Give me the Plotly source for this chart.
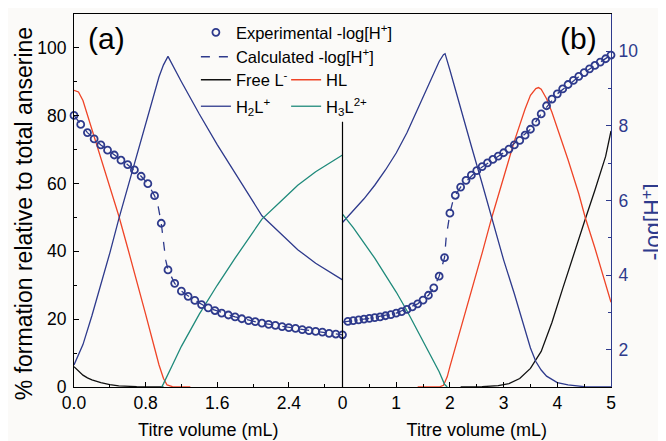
import plotly.graph_objects as go

NAVY = "#2e3a8c"
RED = "#ef4427"
GREEN = "#1f8a7b"
BLACK = "#111111"
BG = "#fbfaf8"
FONT = "Liberation Sans, Arial, sans-serif"

# ---------------- Panel (a) ----------------
a_exp_x = [0, 0.075, 0.15, 0.225, 0.3, 0.375, 0.45, 0.525, 0.6, 0.675, 0.75, 0.825,
           0.9, 0.975, 1.05, 1.125, 1.2, 1.275, 1.35, 1.425, 1.5, 1.575, 1.65, 1.725,
           1.8, 1.875, 1.95, 2.025, 2.1, 2.175, 2.25, 2.325, 2.4, 2.475, 2.55, 2.625,
           2.7, 2.775, 2.85, 2.925, 3.0]
a_exp_ph = [8.28, 8.04, 7.82, 7.65, 7.49, 7.35, 7.22, 7.08, 6.96, 6.82, 6.65, 6.45,
            6.13, 5.39, 4.14, 3.78, 3.57, 3.43, 3.32, 3.21, 3.12, 3.05, 2.98, 2.93,
            2.88, 2.83, 2.78, 2.75, 2.71, 2.68, 2.65, 2.62, 2.59, 2.57, 2.54, 2.51,
            2.49, 2.47, 2.44, 2.42, 2.40]
a_calc_x = [0, 0.15, 0.3, 0.45, 0.6, 0.75, 0.825, 0.9, 0.94, 0.975, 1.0, 1.025, 1.05,
            1.125, 1.2, 1.35, 1.5, 1.8, 2.1, 2.4, 2.7, 3.0]
a_calc_ph = [8.28, 7.82, 7.49, 7.22, 6.96, 6.65, 6.45, 6.13, 5.85, 5.39, 4.85, 4.40, 4.14,
             3.78, 3.57, 3.32, 3.12, 2.88, 2.71, 2.59, 2.49, 2.40]

a_L_x = [0, 0.05, 0.1, 0.15, 0.2, 0.3, 0.4, 0.5, 0.7, 1.0]
a_L = [6.0, 4.6, 3.5, 2.7, 2.1, 1.3, 0.7, 0.35, 0.1, 0.0]

a_HL_x = [0, 0.05, 0.1, 0.2, 0.3, 0.4, 0.5, 0.6, 0.7, 0.8, 0.9, 0.95, 1.0, 1.04, 1.1, 1.3]
a_HL = [87.5, 87.0, 84.5, 76.0, 67.5, 59.0, 50.5, 41.0, 31.5, 21.5, 11.5, 6.5, 2.5, 0.6, 0.1, 0.0]

a_H2L_x = [0, 0.05, 0.1, 0.2, 0.3, 0.4, 0.5, 0.6, 0.7, 0.8, 0.9, 0.95, 1.0, 1.05,
           1.2, 1.4, 1.6, 1.8, 2.0, 2.1, 2.3, 2.5, 2.7, 2.85, 3.0]
a_H2L = [6.5, 9.5, 12.5, 21.0, 30.0, 39.5, 49.5, 59.0, 68.5, 78.0, 87.5, 91.5, 95.0, 97.5,
         90.0, 80.5, 71.5, 63.0, 54.5, 50.5, 45.5, 40.5, 36.5, 34.0, 31.6]

a_H3L_x = [0.98, 1.0, 1.1, 1.2, 1.4, 1.6, 1.8, 2.0, 2.1, 2.3, 2.5, 2.7, 2.85, 3.0]
a_H3L = [0.0, 1.0, 6.5, 12.0, 21.5, 30.0, 38.0, 45.5, 49.5, 54.5, 59.5, 63.5, 66.0, 68.4]

# ---------------- Panel (b) ----------------
b_exp_x = [0.1, 0.2, 0.3, 0.4, 0.5, 0.6, 0.7, 0.8, 0.9, 1.0, 1.1, 1.2, 1.3, 1.4, 1.5,
           1.6, 1.7, 1.8, 1.9, 2.0, 2.1, 2.2, 2.3, 2.4, 2.5, 2.6, 2.7, 2.8, 2.9, 3.0,
           3.1, 3.2, 3.3, 3.4, 3.5, 3.6, 3.7, 3.8, 3.9, 4.0, 4.1, 4.2, 4.3, 4.4, 4.5,
           4.6, 4.7, 4.8, 4.9, 5.0]
b_exp_ph = [2.76, 2.78, 2.80, 2.82, 2.84, 2.86, 2.88, 2.91, 2.94, 2.98, 3.02, 3.08, 3.15,
            3.23, 3.33, 3.46, 3.66, 3.97, 4.47, 5.66, 6.14, 6.36, 6.54, 6.68, 6.80, 6.91,
            7.01, 7.10, 7.19, 7.28, 7.38, 7.49, 7.61, 7.75, 7.91, 8.10, 8.32, 8.54, 8.72,
            8.86, 8.99, 9.11, 9.22, 9.33, 9.43, 9.53, 9.62, 9.71, 9.80, 9.90]
b_calc_x = [0.0, 0.5, 1.0, 1.4, 1.6, 1.7, 1.8, 1.9, 1.93, 1.97, 2.0, 2.05, 2.1, 2.2,
            2.5, 3.0, 3.5, 3.7, 4.0, 4.5, 5.0]
b_calc_ph = [2.74, 2.84, 2.98, 3.23, 3.46, 3.66, 3.97, 4.47, 5.0, 5.4, 5.66, 5.95, 6.14,
             6.36, 6.80, 7.28, 7.91, 8.32, 8.86, 9.43, 9.90]

b_L_x = [2.2, 2.6, 2.9, 3.1, 3.3, 3.5, 3.7, 3.9, 4.1, 4.3, 4.5, 4.7, 4.9, 5.0]
b_L = [0.0, 0.1, 0.4, 1.0, 2.5, 5.5, 10.5, 19.0, 29.0, 39.0, 48.5, 58.0, 68.0, 75.5]

b_HL_x = [1.4, 1.8, 1.88, 1.95, 2.0, 2.2, 2.4, 2.6, 2.78, 3.0, 3.2, 3.4, 3.5, 3.6, 3.65,
          3.7, 3.8, 3.9, 4.0, 4.2, 4.4, 4.52, 4.7, 4.85, 5.0]
b_HL = [0.0, 0.0, 0.5, 3.0, 6.0, 17.0, 28.0, 39.5, 50.0, 62.0, 72.5, 82.0, 86.0, 88.0, 88.3,
        87.8, 85.0, 81.0, 76.5, 67.0, 57.0, 50.0, 41.0, 33.0, 25.0]

b_H2L_x = [0, 0.2, 0.4, 0.6, 0.8, 1.0, 1.2, 1.4, 1.6, 1.8, 1.88, 1.91, 2.0, 2.2, 2.4,
           2.6, 2.8, 3.0, 3.2, 3.4, 3.5, 3.6, 3.7, 3.8, 4.0, 4.2, 4.5, 5.0]
b_H2L = [48.5, 52.0, 55.5, 59.5, 64.0, 69.0, 75.0, 82.0, 89.0, 96.0, 98.0, 98.3, 93.5,
         82.0, 71.0, 60.0, 48.5, 37.5, 27.5, 16.5, 11.5, 7.5, 5.0, 3.2, 1.3, 0.6, 0.1, 0.0]

b_H3L_x = [0, 0.2, 0.4, 0.6, 0.8, 1.0, 1.2, 1.4, 1.6, 1.8, 1.9, 1.95]
b_H3L = [51.0, 47.0, 42.5, 38.0, 33.0, 28.0, 22.5, 16.5, 10.5, 4.5, 0.8, 0.0]

fig = go.Figure()

LW = 1.3


def species(x, y, xa, name, color, legend, show):
    fig.add_trace(go.Scatter(x=x, y=y, xaxis=xa, yaxis="y", mode="lines",
                             line=dict(color=color, width=LW), name=name,
                             legend=legend, showlegend=show))


species(a_L_x, a_L, "x", "Free L<sup>-</sup>", BLACK, "legend2", True)
species(a_HL_x, a_HL, "x", "HL", RED, "legend3", True)
species(a_H2L_x, a_H2L, "x", "H<sub>2</sub>L<sup>+</sup>", NAVY, "legend4", True)
species(a_H3L_x, a_H3L, "x", "H<sub>3</sub>L<sup>2+</sup>", GREEN, "legend5", True)
species(b_L_x, b_L, "x2", "Free L<sup>-</sup>", BLACK, "legend2", False)
species(b_HL_x, b_HL, "x2", "HL", RED, "legend3", False)
species(b_H2L_x, b_H2L, "x2", "H<sub>2</sub>L<sup>+</sup>", NAVY, "legend4", False)
species(b_H3L_x, b_H3L, "x2", "H<sub>3</sub>L<sup>2+</sup>", GREEN, "legend5", False)

# -log[H+] traces
fig.add_trace(go.Scatter(x=a_calc_x, y=a_calc_ph, xaxis="x", yaxis="y3", mode="lines",
                         line=dict(color=NAVY, width=1.3, dash="dash"),
                         name="Calculated -log[H<sup>+</sup>]", legend="legend",
                         showlegend=False))
fig.add_trace(go.Scatter(x=b_calc_x, y=b_calc_ph, xaxis="x2", yaxis="y2", mode="lines",
                         line=dict(color=NAVY, width=1.3, dash="dash"),
                         name="Calculated -log[H<sup>+</sup>]", legend="legend",
                         showlegend=False))
fig.add_trace(go.Scatter(x=a_exp_x, y=a_exp_ph, xaxis="x", yaxis="y3", mode="markers",
                         marker=dict(symbol="circle-open", size=7, color=NAVY,
                                     line=dict(width=1.8, color=NAVY)),
                         name="Experimental -log[H<sup>+</sup>]", legend="legend",
                         showlegend=True, cliponaxis=False))
fig.add_trace(go.Scatter(x=b_exp_x, y=b_exp_ph, xaxis="x2", yaxis="y2", mode="markers",
                         marker=dict(symbol="circle-open", size=7, color=NAVY,
                                     line=dict(width=1.8, color=NAVY)),
                         name="Experimental -log[H<sup>+</sup>]", legend="legend",
                         showlegend=False, cliponaxis=False))
# legend-only entry for the calculated line (keeps legend order)
fig.add_trace(go.Scatter(x=[None], y=[None], xaxis="x2", yaxis="y2", mode="lines",
                         line=dict(color=NAVY, width=1.3, dash="dash"),
                         name="Calculated -log[H<sup>+</sup>]", legend="legend",
                         showlegend=True))

tickfont = dict(family=FONT, size=17.5, color="black")
common_x = dict(showline=True, linecolor="black", linewidth=1.2, mirror=True,
                ticks="inside", ticklen=5, tickwidth=1.2, tickcolor="black",
                showgrid=False, zeroline=False, tickfont=tickfont, automargin=False,
                title=dict(text="Titre volume (mL)", font=dict(family=FONT, size=18, color="black"),
                           standoff=11),
                anchor="y")

leg = dict(xanchor="left", yanchor="middle", bgcolor="rgba(0,0,0,0)", borderwidth=0,
           font=dict(family=FONT, size=16.5, color="black"), itemwidth=30)

# the page body adds an 8 px offset, so the figure is 8 px smaller than the window
fig.update_layout(
    template="none",
    width=658, height=433,
    margin=dict(l=66, r=55, t=6, b=54, pad=0),
    paper_bgcolor=BG, plot_bgcolor=BG,
    font=dict(family=FONT, color="black"),
    xaxis=dict(domain=[0, 0.5], range=[0, 3.0], tick0=0, dtick=0.8, tickformat=".1f",
               minor=dict(dtick=0.4, ticks="inside", ticklen=3, tickcolor="black"),
               **common_x),
    xaxis2=dict(domain=[0.5, 1], range=[0, 5], tick0=0, dtick=1,
                minor=dict(dtick=0.5, ticks="inside", ticklen=3, tickcolor="black"),
                **common_x),
    yaxis=dict(range=[0, 110], tick0=0, dtick=20, anchor="x", showline=True,
               linecolor="black", linewidth=1.2, ticks="inside", ticklen=5, tickwidth=1.2,
               tickcolor="black", showgrid=False, zeroline=False, tickfont=tickfont,
               automargin=False, ticklabelstandoff=3,
               minor=dict(dtick=10, ticks="inside", ticklen=3, tickcolor="black")),
    yaxis2=dict(range=[1, 11], tick0=0, dtick=2, overlaying="y", side="right", anchor="x2",
                showline=True, linecolor=NAVY, linewidth=1.2, ticks="inside", ticklen=5,
                tickwidth=1.2, tickcolor=NAVY, showgrid=False, zeroline=False,
                tickfont=dict(family=FONT, size=17.5, color=NAVY), automargin=False,
                ticklabelstandoff=3,
                minor=dict(dtick=1, ticks="inside", ticklen=3, tickcolor=NAVY)),
    yaxis3=dict(range=[1, 11], overlaying="y", anchor="x", visible=False, automargin=False),
    legend=dict(x=0.227, y=0.918, tracegroupgap=0, **leg),
    legend2=dict(x=0.227, y=0.823, **leg),
    legend3=dict(x=0.395, y=0.823, **leg),
    legend4=dict(x=0.227, y=0.752, **leg),
    legend5=dict(x=0.395, y=0.752, **leg),
    shapes=[dict(type="line", xref="paper", yref="paper", x0=0.5, x1=0.5, y0=0, y1=0.711,
                 line=dict(color="black", width=1.2))],
    annotations=[
        dict(text="(a)", x=0.0605, y=0.9356, xref="paper", yref="paper", showarrow=False,
             xanchor="center", yanchor="middle",
             font=dict(family=FONT, size=30, color="black")),
        dict(text="(b)", x=0.939, y=0.9356, xref="paper", yref="paper", showarrow=False,
             xanchor="center", yanchor="middle",
             font=dict(family=FONT, size=30, color="black")),
        dict(text="% formation relative to total anserine", x=-0.0931, y=0.4634,
             xref="paper", yref="paper", showarrow=False, textangle=-90,
             xanchor="center", yanchor="middle",
             font=dict(family=FONT, size=23, color="black")),
        dict(text="-log[H<sup>+</sup>]", x=1.0758, y=0.4427, xref="paper", yref="paper",
             showarrow=False, textangle=-90, xanchor="center", yanchor="middle",
             font=dict(family=FONT, size=23, color=NAVY)),
    ],
)

fig.write_html("out.html")
